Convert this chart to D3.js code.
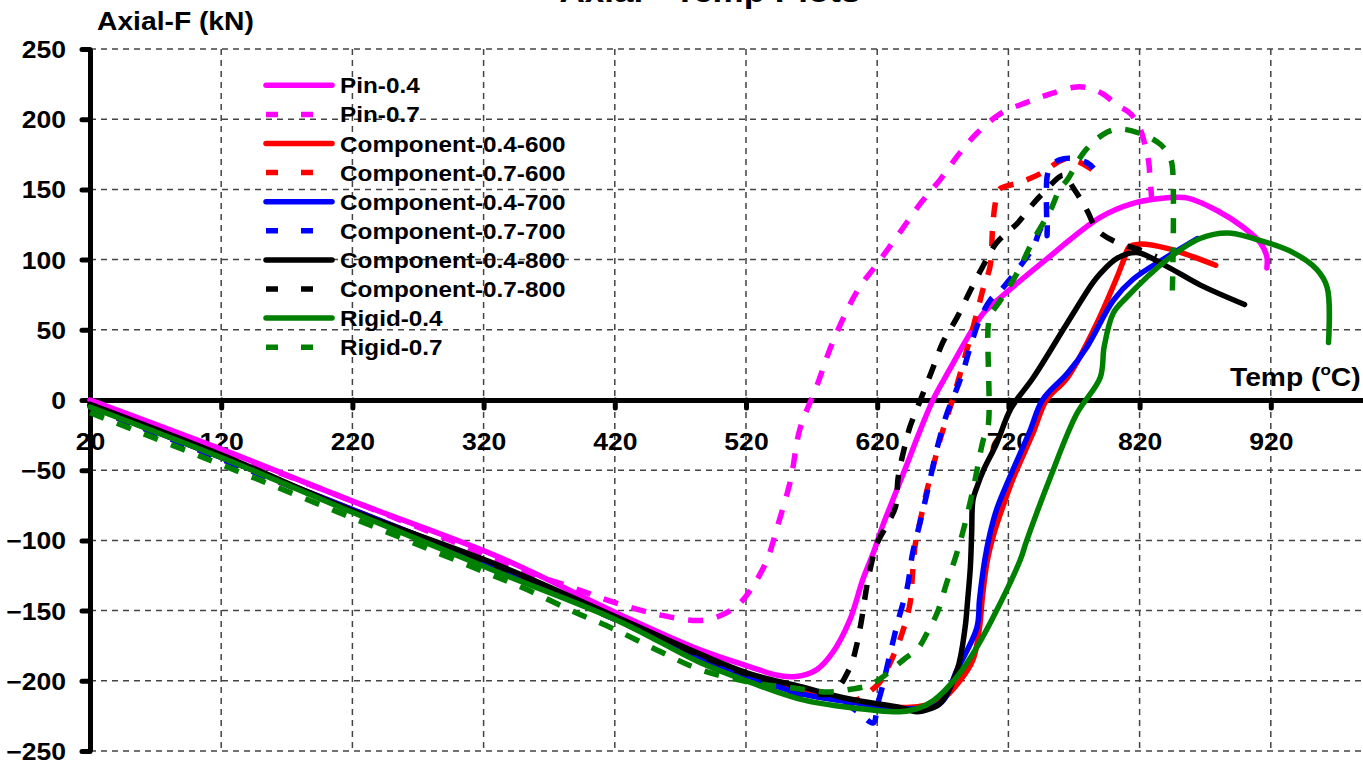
<!DOCTYPE html>
<html>
<head>
<meta charset="utf-8">
<script src="https://cdn.jsdelivr.net/npm/d3@7"></script>
<style>
  body { margin: 0; background: #fff; }
  svg { display: block; }
</style>
</head>
<body>
<div id="chart"></div>
<script>
// data: [temperature (C), axial force (kN)]
var seriesNames = ["Pin-0.4", "Pin-0.7", "Component-0.4-600", "Component-0.7-600",
                   "Component-0.4-700", "Component-0.7-700", "Component-0.4-800",
                   "Component-0.7-800", "Rigid-0.4", "Rigid-0.7"];
var xTicks = [20, 120, 220, 320, 420, 520, 620, 720, 820, 920];
var yTicks = [-250, -200, -150, -100, -50, 0, 50, 100, 150, 200, 250];

var pin04 = [[20,0],[120,-35],[220,-72],[332,-112],[422,-152],[485,-178],[523,-190],[544,-196],[558,-197],[574,-192],[586,-180],[599,-157],[609,-128],[617,-109],[624,-90],[635,-64],[643,-45],[653,-21],[663,1],[676,23],[688,43],[701,62],[714,73],[746,98],[790,130],[815,140],[841,144],[856,144],[879,135],[899,123],[912,112],[917,102],[917,94]];
var pin07 = [[20,0],[120,-36],[220,-72],[300,-102],[348,-121],[386,-133],[419,-144],[454,-153],[485,-157],[502,-153],[515,-145],[525,-133],[536,-114],[544,-90],[554,-57],[561,-21],[574,10],[586,41],[605,78],[620,97],[637,119],[653,140],[668,157],[683,176],[696,190],[714,204],[734,212],[752,218],[772,223],[782,222],[792,218],[803,210],[813,204],[820,194],[824,182],[827,169],[828,157],[830,135]];
var comp04_600 = [[20,-4],[120,-41],[220,-78],[332,-120],[422,-156],[485,-183],[523,-197],[561,-208],[599,-214],[643,-219],[668,-214],[683,-200],[693,-185],[698,-162],[700,-142],[704,-114],[709,-95],[715,-78],[724,-55],[739,-23],[749,0],[765,16],[785,50],[803,88],[808,100],[812,109],[820,111],[841,108],[861,102],[878,96]];
var comp07_600 = [[20,-5],[120,-42],[220,-79],[332,-121],[422,-157],[485,-184],[523,-199],[561,-209],[599,-214],[606,-213],[611,-210],[622,-201],[630,-187],[639,-166],[645,-145],[647,-123],[649,-103],[653,-85],[658,-64],[662,-50],[668,-28],[679,5],[689,38],[696,62],[701,80],[706,95],[708,123],[710,140],[713,150],[729,155],[746,162],[757,169],[765,172],[775,169],[784,164]];
var comp04_700 = [[20,-4],[120,-41],[220,-78],[332,-120],[422,-156],[485,-183],[523,-197],[561,-209],[599,-215],[643,-220],[668,-216],[681,-192],[696,-162],[698,-142],[702,-114],[706,-95],[711,-78],[721,-55],[736,-23],[746,0],[765,19],[780,38],[800,71],[815,86],[841,102],[864,115]];
var comp07_700 = [[20,-5],[120,-42],[220,-79],[332,-121],[422,-157],[485,-184],[523,-199],[561,-210],[590,-213],[605,-222],[617,-230],[620,-218],[624,-204],[630,-180],[636,-157],[643,-133],[647,-109],[653,-86],[659,-62],[666,-33],[673,-10],[679,4],[685,19],[691,38],[698,57],[706,71],[714,78],[727,93],[739,109],[744,121],[749,128],[749.5,117],[749.5,159],[752,166],[759,171],[769,172],[780,169],[785,165]];
var comp04_800 = [[20,-3],[120,-39],[220,-79],[332,-118],[422,-155],[485,-181],[523,-195],[561,-204],[599,-213],[637,-219],[650,-222],[660,-220],[668,-216],[681,-192],[687,-162],[689,-142],[691,-119],[692,-95],[693,-71],[696,-62],[701,-50],[711,-31],[722,-6],[739,16],[765,55],[784,83],[790,90],[803,101],[818,105],[841,95],[866,82],[900,68]];
var comp07_800 = [[20,-4],[120,-40],[220,-79],[332,-119],[422,-156],[485,-182],[523,-196],[561,-206],[585,-209],[599,-191],[604,-176],[608,-157],[612,-133],[615,-119],[620,-102],[628,-88],[634,-76],[636,-55],[641,-33],[645,-19],[650,-7],[658,12],[663,24],[670,41],[681,59],[691,78],[701,96],[711,112],[727,126],[739,140],[746,147],[761,160],[765,159],[767,155],[777,140],[781,133],[786,123],[790,119],[803,112],[820,107],[833,102]];
var rigid04 = [[20,-5],[120,-41],[220,-80],[332,-123],[422,-157],[485,-187],[523,-201],[561,-213],[599,-219],[637,-222],[650,-220],[663,-214],[681,-197],[696,-176],[711,-150],[729,-114],[734,-100],[752,-55],[772,-10],[790,16],[793,38],[800,62],[810,73],[841,100],[866,115],[887,119],[907,115],[937,105],[955,93],[963,80],[964,41]];
var rigid07 = [[20,-9],[120,-46],[220,-84],[322,-123],[353,-135],[387,-150],[419,-163],[452,-178],[485,-192],[523,-201],[554,-205],[584,-208],[600,-206],[611,-204],[620,-200],[640,-185],[651,-177],[658,-166],[666,-151],[673,-130],[679,-114],[685,-95],[693,-64],[701,-28],[704.5,-19],[704.5,52],[706,60],[714,71],[727,91],[739,114],[752,135],[759,150],[765,157],[778,177],[792,189],[803,193],[820,190],[836,182],[843,173],[845,166],[845,78]];

var seriesData = [pin04, pin07, comp04_600, comp07_600, comp04_700, comp07_700, comp04_800, comp07_800, rigid04, rigid07];
var colors = ["#ff00ff", "#ff00ff", "#ff0000", "#ff0000", "#0000ff", "#0000ff", "#000000", "#000000", "#008000", "#008000"];
var dashed = [false, true, false, true, false, true, false, true, false, true];

var width = 1363, height = 764;
var font = "'Liberation Sans', Arial, sans-serif";
var stretch = 1.13;   // text in the original is a bit wider than normal

var svg = d3.select("#chart").append("svg")
  .attr("width", width)
  .attr("height", height);

var x = d3.scaleLinear().domain([20, 1020]).range([90, 1402]);
var y = d3.scaleLinear().domain([-250, 250]).range([751, 49]);

// gridlines
svg.append("g").selectAll("line")
  .data(yTicks.filter(function(d) { return d !== 0; }))
  .enter().append("line")
  .attr("x1", x(20)).attr("x2", width)
  .attr("y1", function(d) { return y(d); })
  .attr("y2", function(d) { return y(d); })
  .attr("stroke", "#444").attr("stroke-width", 1.5)
  .attr("stroke-dasharray", "6,5");

svg.append("g").selectAll("line")
  .data(xTicks.filter(function(d) { return d !== 20; }))
  .enter().append("line")
  .attr("x1", function(d) { return x(d); })
  .attr("x2", function(d) { return x(d); })
  .attr("y1", y(250)).attr("y2", y(-250))
  .attr("stroke", "#444").attr("stroke-width", 1.5)
  .attr("stroke-dasharray", "6,5");

// x axis sits on zero
var xAxis = svg.append("g")
  .attr("transform", "translate(0," + y(0) + ")")
  .call(d3.axisBottom(x).tickValues(xTicks).tickSize(8).tickSizeOuter(0));
xAxis.select(".domain").attr("stroke", "#000").attr("stroke-width", 5);
xAxis.selectAll(".tick line").attr("stroke", "#000").attr("stroke-width", 5).attr("stroke-linecap", "round");
xAxis.selectAll(".tick text")
  .attr("y", 50).attr("dy", null)
  .attr("transform", "scale(" + stretch + ",1)")
  .style("font-family", font).style("font-size", "23.5px").style("font-weight", "bold")
  .attr("fill", "#000");

var yAxis = svg.append("g")
  .attr("transform", "translate(" + x(20) + ",0)")
  .call(d3.axisLeft(y).tickValues(yTicks).tickSize(8).tickSizeOuter(0));
yAxis.select(".domain").attr("stroke", "#000").attr("stroke-width", 5);
yAxis.selectAll(".tick line").attr("stroke", "#000").attr("stroke-width", 5).attr("stroke-linecap", "round");
yAxis.selectAll(".tick text")
  .attr("x", -24 / stretch).attr("dy", "0.36em")
  .attr("transform", "scale(" + stretch + ",1)")
  .style("font-family", font).style("font-size", "23.5px").style("font-weight", "bold")
  .attr("fill", "#000");

// series
var line = d3.line()
  .x(function(d) { return x(d[0]); })
  .y(function(d) { return y(d[1]); })
  .curve(d3.curveCatmullRom.alpha(0.5));

svg.append("g").selectAll("path")
  .data(seriesData)
  .enter().append("path")
  .attr("d", line)
  .attr("fill", "none")
  .attr("stroke", function(d, i) { return colors[i]; })
  .attr("stroke-width", 5.5)
  .attr("stroke-linejoin", "round")
  .attr("stroke-linecap", function(d, i) { return dashed[i] ? "butt" : "round"; })
  .attr("stroke-dasharray", function(d, i) { return dashed[i] ? "15,14" : null; });

// legend
var legend = svg.append("g").selectAll("g")
  .data(seriesNames)
  .enter().append("g")
  .attr("transform", function(d, i) { return "translate(0," + (85.3 + i * 29.1) + ")"; });

legend.append("line")
  .attr("x1", 266)
  .attr("x2", function(d, i) { return dashed[i] ? 313 : 332; })
  .attr("stroke", function(d, i) { return colors[i]; })
  .attr("stroke-width", 5.5)
  .attr("stroke-linecap", function(d, i) { return dashed[i] ? "butt" : "round"; })
  .attr("stroke-dasharray", function(d, i) { return dashed[i] ? "12,23" : null; });

legend.append("text")
  .attr("transform", "translate(340,8) scale(" + stretch + ",1)")
  .text(function(d) { return d; })
  .style("font-family", font).style("font-size", "21.5px").style("font-weight", "bold")
  .attr("fill", "#000");

// titles (the chart title is cut off at the top edge, as in the original)
svg.append("text")
  .attr("transform", "translate(710,2) scale(" + stretch + ",1)")
  .attr("text-anchor", "middle")
  .style("font-family", font).style("font-size", "31px").style("font-weight", "bold")
  .text("Axial - Temp Plots");

svg.append("text")
  .attr("transform", "translate(97,30) scale(" + stretch + ",1)")
  .style("font-family", font).style("font-size", "25px").style("font-weight", "bold")
  .text("Axial-F (kN)");

var tLabel = svg.append("text")
  .attr("transform", "translate(1230,386) scale(" + stretch + ",1)")
  .style("font-family", font).style("font-size", "25px").style("font-weight", "bold");
tLabel.append("tspan").text("Temp (");
tLabel.append("tspan").attr("dy", -11).style("font-size", "15px").text("o");
tLabel.append("tspan").attr("dy", 11).text("C)");
</script>
</body>
</html>
